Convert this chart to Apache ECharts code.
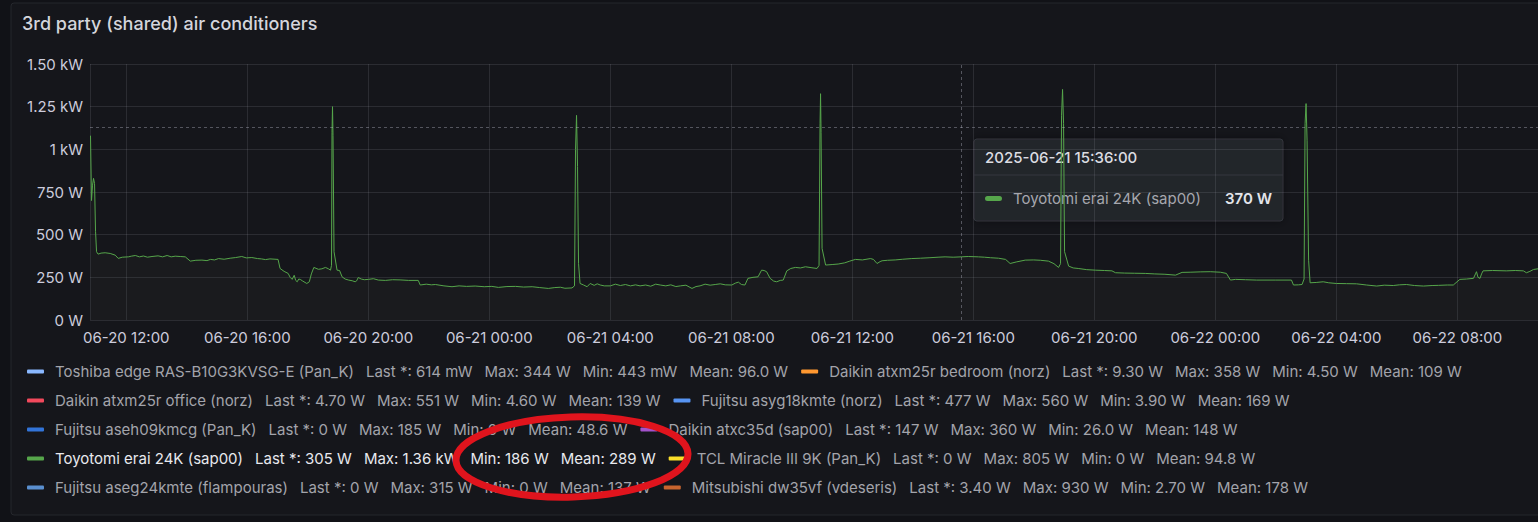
<!DOCTYPE html>
<html>
<head>
<meta charset="utf-8">
<script src="https://cdn.jsdelivr.net/npm/echarts@6/dist/echarts.min.js"></script>
<style>
  html, body { margin: 0; padding: 0; background: #111217; }
  #chart { width: 1538px; height: 522px; }
</style>
</head>
<body>
<div id="chart"></div>
<script>
// ---------- DATA ----------
const panelTitle = '3rd party (shared) air conditioners';

const seriesNames = [
  'Toshiba edge RAS-B10G3KVSG-E (Pan_K)', 'Daikin atxm25r bedroom (norz)',
  'Daikin atxm25r office (norz)', 'Fujitsu asyg18kmte (norz)',
  'Fujitsu aseh09kmcg (Pan_K)', 'Daikin atxc35d (sap00)',
  'Toyotomi erai 24K (sap00)', 'TCL Miracle III 9K (Pan_K)',
  'Fujitsu aseg24kmte (flampouras)', 'Mitsubishi dw35vf (vdeseris)'
];
const seriesColors = ['#8ab8ff', '#ff9830', '#f2495c', '#5794f2', '#3274d9',
  '#a352cc', '#56a64b', '#fade2a', '#5a8fcf', '#c8652f'];
const statLast = ['614 mW', '9.30 W', '4.70 W', '477 W', '0 W', '147 W', '305 W', '0 W', '0 W', '3.40 W'];
const statMax  = ['344 W', '358 W', '551 W', '560 W', '185 W', '360 W', '1.36 kW', '805 W', '315 W', '930 W'];
const statMin  = ['443 mW', '4.50 W', '4.60 W', '3.90 W', '0 W', '26.0 W', '186 W', '0 W', '0 W', '2.70 W'];
const statMean = ['96.0 W', '109 W', '139 W', '169 W', '48.6 W', '148 W', '289 W', '94.8 W', '137 W', '178 W'];
const highlightedSeries = 'Toyotomi erai 24K (sap00)';

const yTickLabels = ['0 W', '250 W', '500 W', '750 W', '1 kW', '1.25 kW', '1.50 kW'];
const xStart = '2025-06-20 10:48';
const xEnd = '2025-06-22 10:40';
const hoverTime = '2025-06-21 15:36';
const hoverY = 1130;

// Toyotomi erai 24K (sap00) power, watts
const toyotomiSeries = [
  ['2025-06-20 10:49',1080],['2025-06-20 10:51',700],['2025-06-20 10:53',790],['2025-06-20 10:55',830],
  ['2025-06-20 10:57',800],['2025-06-20 10:59',520],['2025-06-20 11:01',400],['2025-06-20 11:04',386],
  ['2025-06-20 11:10',392],['2025-06-20 11:18',394],['2025-06-20 11:28',390],['2025-06-20 11:38',380],
  ['2025-06-20 11:44',361],['2025-06-20 11:52',368],['2025-06-20 12:04',370],['2025-06-20 12:10',374],
  ['2025-06-20 12:18',378],['2025-06-20 12:26',370],['2025-06-20 12:34',375],['2025-06-20 12:42',368],
  ['2025-06-20 12:51',372],['2025-06-20 13:03',376],['2025-06-20 13:12',370],['2025-06-20 13:21',378],
  ['2025-06-20 13:29',370],['2025-06-20 13:37',374],['2025-06-20 13:47',372],['2025-06-20 13:57',370],
  ['2025-06-20 14:07',345],['2025-06-20 14:18',350],['2025-06-20 14:30',351],['2025-06-20 14:40',348],
  ['2025-06-20 14:47',355],['2025-06-20 14:55',352],['2025-06-20 15:03',360],['2025-06-20 15:14',356],
  ['2025-06-20 15:26',362],['2025-06-20 15:37',366],['2025-06-20 15:49',372],['2025-06-20 15:58',364],
  ['2025-06-20 16:09',366],['2025-06-20 16:20',360],['2025-06-20 16:28',358],['2025-06-20 16:36',354],
  ['2025-06-20 16:45',358],['2025-06-20 17:01',355],['2025-06-20 17:05',302],['2025-06-20 17:13',285],
  ['2025-06-20 17:21',273],['2025-06-20 17:25',250],['2025-06-20 17:29',238],['2025-06-20 17:33',262],
  ['2025-06-20 17:36',232],['2025-06-20 17:39',224],['2025-06-20 17:42',240],['2025-06-20 17:45',238],
  ['2025-06-20 17:50',228],['2025-06-20 17:58',214],['2025-06-20 18:03',224],['2025-06-20 18:07',270],
  ['2025-06-20 18:12',308],['2025-06-20 18:21',297],['2025-06-20 18:28',300],['2025-06-20 18:35',308],
  ['2025-06-20 18:41',300],['2025-06-20 18:45',292],['2025-06-20 18:47',320],['2025-06-20 18:48',1100],
  ['2025-06-20 18:49',1250],['2025-06-20 18:50',1080],['2025-06-20 18:52',400],['2025-06-20 18:58',292],
  ['2025-06-20 19:03',290],['2025-06-20 19:08',253],['2025-06-20 19:14',240],['2025-06-20 19:21',234],
  ['2025-06-20 19:28',230],['2025-06-20 19:34',224],['2025-06-20 19:37',230],['2025-06-20 19:40',249],
  ['2025-06-20 19:46',240],['2025-06-20 19:52',236],['2025-06-20 20:00',238],['2025-06-20 20:10',242],
  ['2025-06-20 20:20',234],['2025-06-20 20:34',232],['2025-06-20 20:48',236],['2025-06-20 21:03',235],
  ['2025-06-20 21:20',232],['2025-06-20 21:39',232],['2025-06-20 21:43',205],['2025-06-20 21:55',210],
  ['2025-06-20 22:05',206],['2025-06-20 22:13',208],['2025-06-20 22:30',200],['2025-06-20 22:46',195],
  ['2025-06-20 23:00',200],['2025-06-20 23:15',197],['2025-06-20 23:32',199],['2025-06-20 23:50',195],
  ['2025-06-21 00:05',197],['2025-06-21 00:18',191],['2025-06-21 00:35',196],['2025-06-21 00:52',197],
  ['2025-06-21 01:08',193],['2025-06-21 01:25',195],['2025-06-21 01:40',190],['2025-06-21 01:57',185],
  ['2025-06-21 02:10',190],['2025-06-21 02:21',192],['2025-06-21 02:30',186],['2025-06-21 02:44',188],
  ['2025-06-21 02:49',200],['2025-06-21 02:51',1000],['2025-06-21 02:53',1199],['2025-06-21 02:55',900],
  ['2025-06-21 02:57',330],['2025-06-21 03:00',214],['2025-06-21 03:07',205],['2025-06-21 03:14',195],
  ['2025-06-21 03:20',214],['2025-06-21 03:28',203],['2025-06-21 03:34',212],['2025-06-21 03:40',205],
  ['2025-06-21 03:48',200],['2025-06-21 04:00',200],['2025-06-21 04:10',210],['2025-06-21 04:20',202],
  ['2025-06-21 04:30',208],['2025-06-21 04:40',200],['2025-06-21 04:50',206],['2025-06-21 04:59',200],
  ['2025-06-21 05:10',205],['2025-06-21 05:20',198],['2025-06-21 05:30',210],['2025-06-21 05:39',205],
  ['2025-06-21 05:50',200],['2025-06-21 06:00',206],['2025-06-21 06:10',196],['2025-06-21 06:19',200],
  ['2025-06-21 06:30',204],['2025-06-21 06:42',185],['2025-06-21 06:50',196],['2025-06-21 06:58',200],
  ['2025-06-21 07:08',210],['2025-06-21 07:18',204],['2025-06-21 07:28',208],['2025-06-21 07:38',212],
  ['2025-06-21 07:48',206],['2025-06-21 08:01',205],['2025-06-21 08:08',216],['2025-06-21 08:14',222],
  ['2025-06-21 08:20',208],['2025-06-21 08:27',205],['2025-06-21 08:33',244],['2025-06-21 08:43',250],
  ['2025-06-21 08:53',253],['2025-06-21 09:00',292],['2025-06-21 09:05',290],['2025-06-21 09:10',283],
  ['2025-06-21 09:17',244],['2025-06-21 09:24',228],['2025-06-21 09:30',224],['2025-06-21 09:37',232],
  ['2025-06-21 09:43',234],['2025-06-21 09:50',288],['2025-06-21 09:58',302],['2025-06-21 10:07',308],
  ['2025-06-21 10:17',305],['2025-06-21 10:27',312],['2025-06-21 10:40',306],['2025-06-21 10:50',302],
  ['2025-06-21 10:54',320],['2025-06-21 10:56',1150],['2025-06-21 10:57',1326],['2025-06-21 10:58',1100],
  ['2025-06-21 11:00',420],['2025-06-21 11:07',322],['2025-06-21 11:20',325],['2025-06-21 11:32',328],
  ['2025-06-21 11:45',335],['2025-06-21 11:55',345],['2025-06-21 12:06',355],['2025-06-21 12:20',352],
  ['2025-06-21 12:36',360],['2025-06-21 12:42',355],['2025-06-21 12:49',331],['2025-06-21 12:55',342],
  ['2025-06-21 12:59',347],['2025-06-21 13:10',350],['2025-06-21 13:25',352],['2025-06-21 13:40',356],
  ['2025-06-21 13:58',360],['2025-06-21 14:15',362],['2025-06-21 14:34',365],['2025-06-21 14:50',368],
  ['2025-06-21 15:04',370],['2025-06-21 15:20',368],['2025-06-21 15:36',370],['2025-06-21 15:50',372],
  ['2025-06-21 16:10',370],['2025-06-21 16:22',368],['2025-06-21 16:34',365],['2025-06-21 16:50',362],
  ['2025-06-21 17:04',355],['2025-06-21 17:13',331],['2025-06-21 17:25',340],['2025-06-21 17:43',351],
  ['2025-06-21 18:00',352],['2025-06-21 18:13',350],['2025-06-21 18:29',345],['2025-06-21 18:40',330],
  ['2025-06-21 18:49',308],['2025-06-21 18:53',330],['2025-06-21 18:55',1200],['2025-06-21 18:57',1351],
  ['2025-06-21 18:59',1150],['2025-06-21 19:01',400],['2025-06-21 19:09',316],['2025-06-21 19:18',305],
  ['2025-06-21 19:28',302],['2025-06-21 19:45',295],['2025-06-21 20:02',292],['2025-06-21 20:20',290],
  ['2025-06-21 20:35',288],['2025-06-21 20:42',277],['2025-06-21 21:00',275],['2025-06-21 21:20',274],
  ['2025-06-21 21:41',273],['2025-06-21 22:00',270],['2025-06-21 22:20',268],['2025-06-21 22:41',263],
  ['2025-06-21 22:54',279],['2025-06-21 23:10',280],['2025-06-21 23:30',282],['2025-06-21 23:50',283],
  ['2025-06-22 00:10',280],['2025-06-22 00:22',273],['2025-06-22 00:30',234],['2025-06-22 00:40',238],
  ['2025-06-22 01:00',236],['2025-06-22 01:22',234],['2025-06-22 02:00',234],['2025-06-22 02:31',234],
  ['2025-06-22 02:35',205],['2025-06-22 02:45',206],['2025-06-22 02:52',208],['2025-06-22 02:56',240],
  ['2025-06-22 02:58',1150],['2025-06-22 03:00',1268],['2025-06-22 03:02',1050],['2025-06-22 03:05',350],
  ['2025-06-22 03:08',218],['2025-06-22 03:20',220],['2025-06-22 03:34',224],['2025-06-22 03:45',218],
  ['2025-06-22 04:00',214],['2025-06-22 04:20',213],['2025-06-22 04:40',212],['2025-06-22 05:00',205],
  ['2025-06-22 05:20',199],['2025-06-22 05:35',204],['2025-06-22 05:53',202],['2025-06-22 06:05',206],
  ['2025-06-22 06:19',208],['2025-06-22 06:35',202],['2025-06-22 06:53',199],['2025-06-22 07:10',202],
  ['2025-06-22 07:23',203],['2025-06-22 07:40',205],['2025-06-22 07:52',205],['2025-06-22 08:05',238],
  ['2025-06-22 08:18',240],['2025-06-22 08:32',244],['2025-06-22 08:36',270],['2025-06-22 08:38',283],
  ['2025-06-22 08:41',250],['2025-06-22 08:45',244],['2025-06-22 08:48',270],['2025-06-22 08:51',288],
  ['2025-06-22 09:10',290],['2025-06-22 09:37',288],['2025-06-22 09:55',290],['2025-06-22 10:11',288],
  ['2025-06-22 10:17',277],['2025-06-22 10:24',285],['2025-06-22 10:31',296],['2025-06-22 10:40',300]
];

// ---------- CHART ----------
const FONT = 'Inter, "Noto Sans", sans-serif';
const chart = echarts.init(document.getElementById('chart'), null, { renderer: 'svg' });

function legendLabel(name) {
  const i = seriesNames.indexOf(name);
  return '{n|' + name + '}{s|Last *: ' + statLast[i] + '}{s|Max: ' + statMax[i] +
         '}{s|Min: ' + statMin[i] + '}{s|Mean: ' + statMean[i] + '}';
}

const legends = [];
for (let r = 0; r < 5; r++) {
  legends.push({
    left: 27, top: 364 + r * 29, padding: 0, orient: 'horizontal',
    selectedMode: false, icon: 'roundRect', itemWidth: 17, itemHeight: 4, itemGap: 13,
    data: seriesNames.slice(r * 2, r * 2 + 2).map(n => ({
      name: n,
      textStyle: { color: n === highlightedSeries ? '#e8e9ee' : '#a3a4ab' }
    })),
    formatter: legendLabel,
    textStyle: {
      fontFamily: FONT, fontSize: 15, padding: [0, 0, 0, 6],
      rich: {
        n: { fontFamily: FONT, fontSize: 15 },
        s: { fontFamily: FONT, fontSize: 15, padding: [0, 0, 0, 12] }
      }
    }
  });
}

const series = seriesNames.map((n, i) => ({
  name: n, type: 'line',
  data: n === highlightedSeries ? toyotomiSeries : [],
  showSymbol: false, symbol: 'none',
  lineStyle: { width: 1, color: seriesColors[i] },
  itemStyle: { color: seriesColors[i] },
  areaStyle: n === highlightedSeries ? { color: 'rgba(120,150,115,0.07)' } : undefined,
  animation: false
}));
series[seriesNames.indexOf(highlightedSeries)].markLine = {
  silent: true, symbol: 'none', animation: false,
  label: { show: false },
  lineStyle: { type: [3, 3], color: 'rgba(204,204,220,0.35)', width: 1 },
  data: [{ xAxis: hoverTime }, { yAxis: hoverY }]
};

// tooltip content from data
const hovered = toyotomiSeries.find(d => d[0] === hoverTime);
const hoverHeader = echarts.time.format(echarts.number.parseDate(hoverTime),
  '{yyyy}-{MM}-{dd} {HH}:{mm}:{ss}', false);
const hoverValue = hovered[1] + ' W';
const hoverColor = seriesColors[seriesNames.indexOf(highlightedSeries)];

const option = {
  backgroundColor: '#111217',
  animation: false,
  title: {
    text: panelTitle, left: 22, top: 14, padding: 0,
    textStyle: { fontFamily: FONT, fontSize: 18, fontWeight: 500, color: '#d4d5dc' }
  },
  grid: { left: 90, right: 0, top: 64, bottom: 202, containLabel: false },
  xAxis: {
    type: 'time', min: xStart, max: xEnd,
    minInterval: 4 * 3600 * 1000, maxInterval: 4 * 3600 * 1000,
    axisLine: { show: false }, axisTick: { show: false },
    splitLine: { show: true, lineStyle: { color: 'rgba(204,204,220,0.12)', width: 1 } },
    axisLabel: {
      show: true, margin: 10, color: '#ccccdc', fontFamily: FONT, fontSize: 15,
      showMinLabel: false, showMaxLabel: false, hideOverlap: false,
      formatter: v => echarts.time.format(v, '{MM}-{dd} {HH}:{mm}', false)
    }
  },
  yAxis: {
    type: 'value', min: 0, max: 1500, interval: 250,
    axisLine: { show: false }, axisTick: { show: false },
    splitLine: { show: true, lineStyle: { color: 'rgba(204,204,220,0.12)', width: 1 } },
    axisLabel: {
      margin: 7, color: '#ccccdc', fontFamily: FONT, fontSize: 15,
      formatter: v => yTickLabels[Math.round(v / 250)]
    }
  },
  legend: legends,
  series: series,
  graphic: [
    { type: 'rect', x: 11, y: 3, z: -10, silent: true,
      shape: { width: 1540, height: 512, r: 3 },
      style: { fill: '#15161b', stroke: '#25272d', lineWidth: 1 } },
    // tooltip box
    { type: 'group', x: 974, y: 139, z: 90, silent: true, children: [
      { type: 'rect', shape: { x: 0, y: 0, width: 309, height: 82, r: 3 },
        style: { fill: '#22252b', stroke: '#32353b', lineWidth: 1,
                 shadowBlur: 8, shadowColor: 'rgba(0,0,0,0.4)' } },
      { type: 'line', shape: { x1: 0, y1: 36, x2: 309, y2: 36 },
        style: { stroke: '#34373e', lineWidth: 1 } },
      { type: 'text', x: 11, y: 18,
        style: { text: hoverHeader, fill: '#dcdde2', font: '500 15px ' + FONT, textVerticalAlign: 'middle' } },
      { type: 'rect', shape: { x: 11, y: 57, width: 17, height: 5, r: 2.5 },
        style: { fill: hoverColor } },
      { type: 'text', x: 39, y: 59,
        style: { text: highlightedSeries, fill: '#a6a7ae', font: '400 15px ' + FONT, textVerticalAlign: 'middle' } },
      { type: 'text', x: 298, y: 59,
        style: { text: hoverValue, fill: '#e4e5ea', font: '600 15px ' + FONT, textAlign: 'right', textVerticalAlign: 'middle' } }
    ]},
    // red marker ellipse annotation
    { type: 'ellipse', x: 572, y: 457, rotation: 0.03, z: 100, silent: true,
      shape: { cx: 0, cy: 0, rx: 116, ry: 40 },
      style: { fill: 'none', stroke: '#e0141d', lineWidth: 7 } }
  ]
};
chart.setOption(option);
</script>
</body>
</html>
